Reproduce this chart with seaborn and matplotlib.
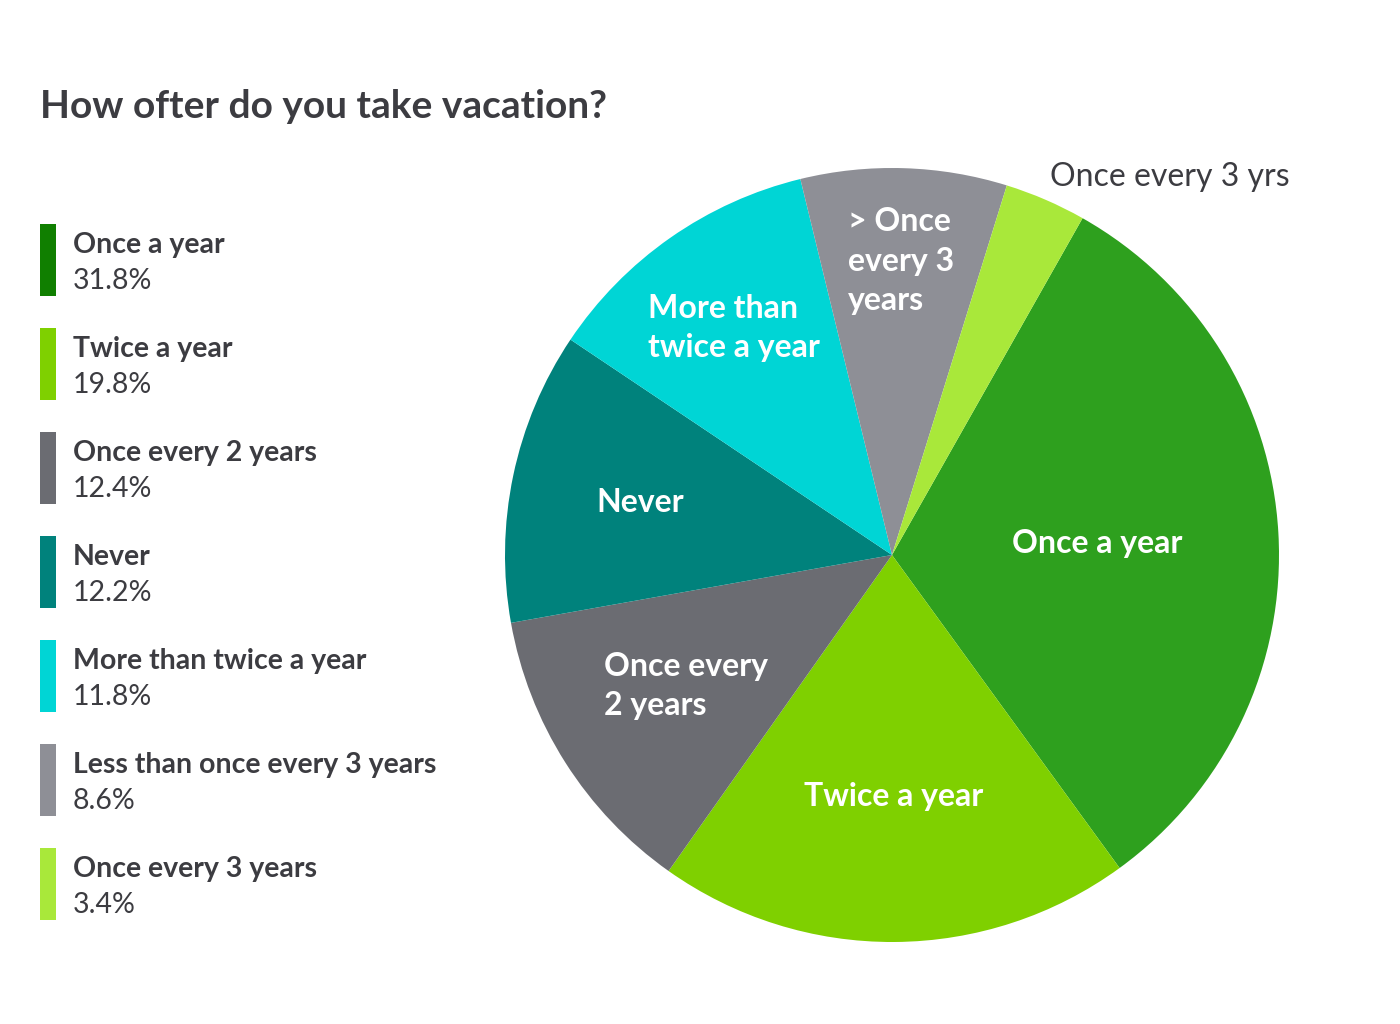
import matplotlib
matplotlib.use("Agg")
import matplotlib.pyplot as plt
import seaborn as sns
from matplotlib.patches import Rectangle
import numpy as np

# ----------------- DATA -----------------
categories = [
    "Once a year",
    "Twice a year",
    "Once every 2 years",
    "Never",
    "More than twice a year",
    "Less than once every 3 years",
    "Once every 3 years",
]
shares = [31.8, 19.8, 12.4, 12.2, 11.8, 8.6, 3.4]
pie_labels = [
    "Once a year",
    "Twice a year",
    "Once every\n2 years",
    "Never",
    "More than\ntwice a year",
    "> Once\nevery 3\nyears",
    "Once every 3 yrs",
]
title = "How ofter do you take vacation?"

# ----------------- STYLE -----------------
slice_colors = ["#2ea01e", "#7fd000", "#6b6c72", "#00827c", "#00d5d5", "#8e8f96", "#a9e83a"]
swatch_colors = ["#107f00", "#7fd000", "#6b6c72", "#00827c", "#00d5d5", "#8e8f96", "#a9e83a"]
# radial position of each in-slice label (fraction of radius)
label_radius = [0.53, 0.625, 0.63, 0.665, 0.715, 0.76, None]
text_dark = "#3c3c41"

sns.set_theme(style="white")
plt.rcParams["font.family"] = ["Lato", "DejaVu Sans"]

W, H = 1400, 1024
fig = plt.figure(figsize=(W / 100, H / 100), dpi=100)
fig.patch.set_facecolor("white")

# pie placed so its centre is ~(892, 555) px with radius ~387 px
cx, cy, r = 892, 555, 387
ax = fig.add_axes([(cx - r) / W, (H - cy - r) / H, 2 * r / W, 2 * r / H])
wedges, _ = ax.pie(shares, colors=slice_colors, startangle=60.5, counterclock=False,
                   radius=1, wedgeprops=dict(linewidth=0))
ax.set_xlim(-1, 1)
ax.set_ylim(-1, 1)
ax.set_aspect("equal")
ax.axis("off")

for w, lab, rr in zip(wedges, pie_labels, label_radius):
    if rr is None:
        continue
    mid = np.deg2rad((w.theta1 + w.theta2) / 2)
    ax.text(rr * np.cos(mid), rr * np.sin(mid), lab, color="white", fontsize=23,
            fontweight="bold", ha="center", va="center", multialignment="left",
            linespacing=1.42)

# outside label for the thin slice
fig.text(1050 / W, 1 - 177 / H, pie_labels[-1], color=text_dark, fontsize=23,
         ha="left", va="center")

# ----------------- TITLE -----------------
fig.text(40 / W, 1 - 106 / H, title, color=text_dark, fontsize=28,
         fontweight="bold", ha="left", va="center")

# ----------------- LEGEND -----------------
for i, (cat, val, col) in enumerate(zip(categories, shares, swatch_colors)):
    top = 224 + i * 104
    fig.patches.append(Rectangle((40 / W, 1 - (top + 72) / H), 16 / W, 72 / H,
                                 transform=fig.transFigure, facecolor=col,
                                 edgecolor="none"))
    fig.text(73 / W, 1 - (top + 21) / H, cat, color=text_dark, fontsize=20.5,
             fontweight="bold", ha="left", va="center")
    fig.text(73 / W, 1 - (top + 57) / H, f"{val}%", color=text_dark, fontsize=20.5,
             ha="left", va="center")

fig.savefig("out.png", dpi=100, facecolor="white")
